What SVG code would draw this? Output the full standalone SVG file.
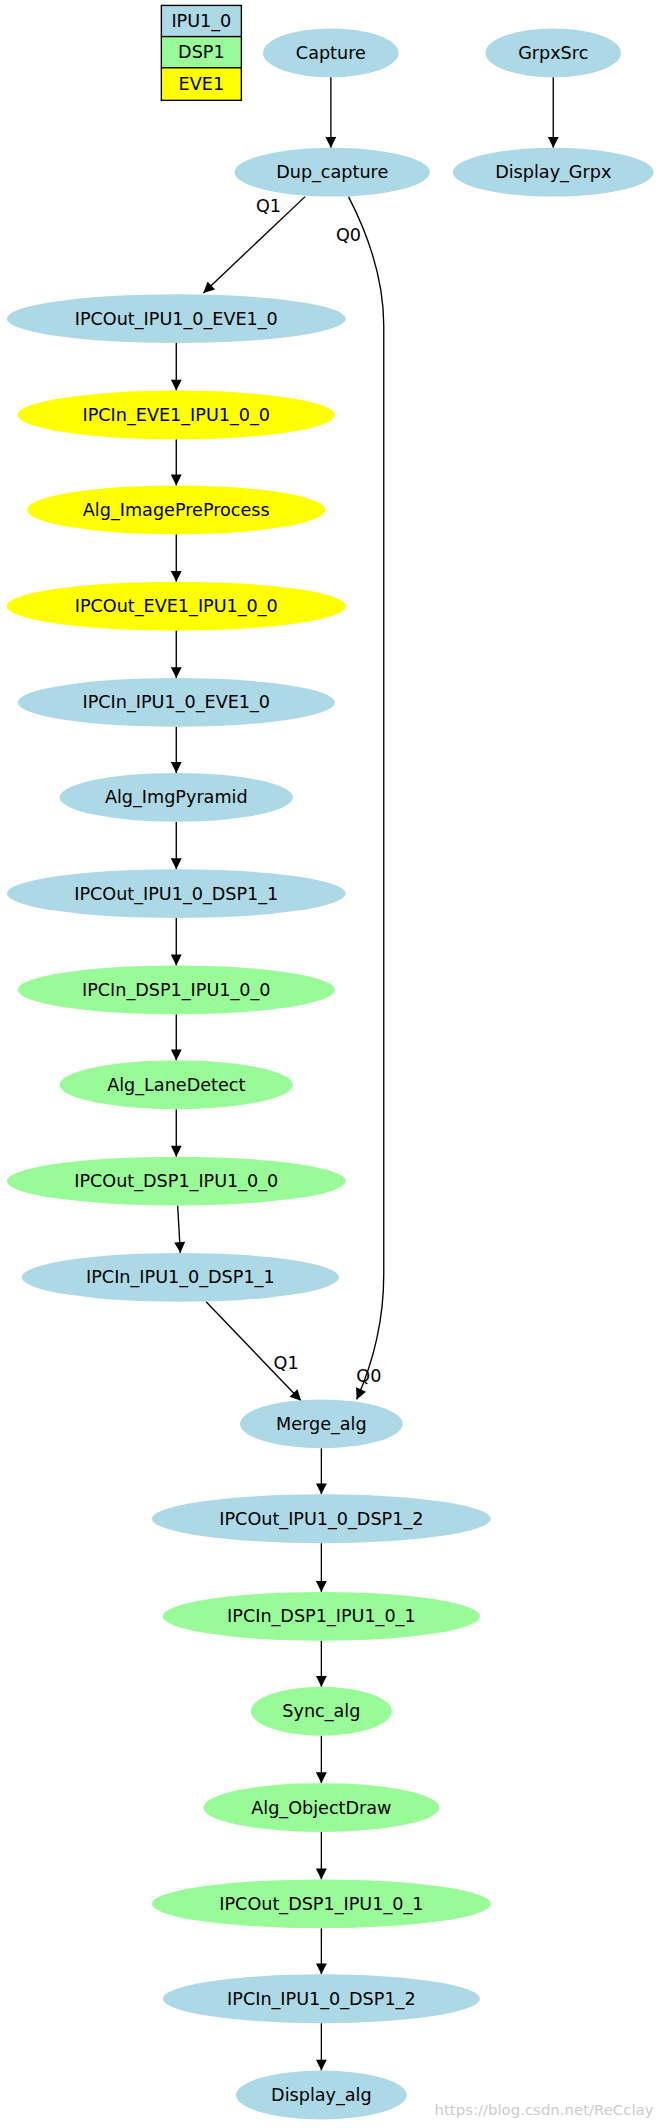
<svg xmlns="http://www.w3.org/2000/svg" width="659" height="2128" viewBox="0 0 659 2128">
<style>
text{font-family:"DejaVu Sans","Noto Sans",sans-serif;font-size:13px;text-anchor:middle;dominant-baseline:central;fill:#000}
.i{fill:#add8e6}.d{fill:#98fb98}.e{fill:#ffff00}
.c path,.c line{stroke:#000;stroke-width:1;fill:none;marker-end:url(#a)}
.w{fill:#ccc;font-size:11px;text-anchor:end}
</style>
<defs><marker id="a" viewBox="0 0 10 10" refX="10" refY="5" markerWidth="10" markerHeight="8" markerUnits="userSpaceOnUse" orient="auto"><path d="M0,0L10,5L0,10z" fill="#000"/></marker></defs>
<rect width="659" height="2128" fill="#fff"/>
<g transform="scale(1.356)">
<g id="legend" stroke="#000">
<rect x="119" y="4" width="59" height="23" class="i"/><rect x="119" y="27" width="59" height="23" class="d"/><rect x="119" y="50" width="59" height="24" class="e"/>
</g>
<text x="148.5" y="15.5">IPU1_0</text><text x="148.5" y="38.5">DSP1</text><text x="148.5" y="62">EVE1</text>
<g class="c">
<line x1="244" y1="57" x2="244" y2="109"/>
<line x1="408" y1="57" x2="408" y2="109"/>
<path d="M225,145 L150,216"/>
<path d="M257,145 C275,180 283,210 283,240 L283,940 C283,975 275,1005 263,1032"/>
<line x1="130" y1="253" x2="130" y2="288"/>
<line x1="130" y1="324" x2="130" y2="358"/>
<line x1="130" y1="394" x2="130" y2="429"/>
<line x1="130" y1="465" x2="130" y2="500"/>
<line x1="130" y1="536" x2="130" y2="570"/>
<line x1="130" y1="606" x2="130" y2="641"/>
<line x1="130" y1="677" x2="130" y2="712"/>
<line x1="130" y1="748" x2="130" y2="782"/>
<line x1="130" y1="818" x2="130" y2="853"/>
<line x1="131" y1="889" x2="133" y2="924"/>
<path d="M152,960 L222,1033"/>
<line x1="237" y1="1068" x2="237" y2="1102"/>
<line x1="237" y1="1138" x2="237" y2="1174"/>
<line x1="237" y1="1210" x2="237" y2="1244"/>
<line x1="237" y1="1280" x2="237" y2="1315"/>
<line x1="237" y1="1351" x2="237" y2="1386"/>
<line x1="237" y1="1422" x2="237" y2="1456"/>
<line x1="237" y1="1492" x2="237" y2="1527"/>
</g>
<text x="198" y="152">Q1</text><text x="257" y="173">Q0</text><text x="211" y="1005">Q1</text><text x="272" y="1015">Q0</text>
<g id="Capture"><ellipse cx="244" cy="39" rx="50" ry="18" class="i"/><text x="244" y="39">Capture</text></g>
<g id="GrpxSrc"><ellipse cx="408" cy="39" rx="50" ry="18" class="i"/><text x="408" y="39">GrpxSrc</text></g>
<g id="Dup_capture"><ellipse cx="245" cy="127" rx="72" ry="18" class="i"/><text x="245" y="127">Dup_capture</text></g>
<g id="Display_Grpx"><ellipse cx="408" cy="127" rx="74" ry="18" class="i"/><text x="408" y="127">Display_Grpx</text></g>
<g id="n1"><ellipse cx="130" cy="235" rx="125" ry="18" class="i"/><text x="130" y="235">IPCOut_IPU1_0_EVE1_0</text></g>
<g id="n2"><ellipse cx="130" cy="306" rx="117" ry="18" class="e"/><text x="130" y="306">IPCIn_EVE1_IPU1_0_0</text></g>
<g id="n3"><ellipse cx="130" cy="376" rx="110" ry="18" class="e"/><text x="130" y="376">Alg_ImagePreProcess</text></g>
<g id="n4"><ellipse cx="130" cy="447" rx="125" ry="18" class="e"/><text x="130" y="447">IPCOut_EVE1_IPU1_0_0</text></g>
<g id="n5"><ellipse cx="130" cy="518" rx="117" ry="18" class="i"/><text x="130" y="518">IPCIn_IPU1_0_EVE1_0</text></g>
<g id="n6"><ellipse cx="130" cy="588" rx="86" ry="18" class="i"/><text x="130" y="588">Alg_ImgPyramid</text></g>
<g id="n7"><ellipse cx="130" cy="659" rx="125" ry="18" class="i"/><text x="130" y="659">IPCOut_IPU1_0_DSP1_1</text></g>
<g id="n8"><ellipse cx="130" cy="730" rx="117" ry="18" class="d"/><text x="130" y="730">IPCIn_DSP1_IPU1_0_0</text></g>
<g id="n9"><ellipse cx="130" cy="800" rx="86" ry="18" class="d"/><text x="130" y="800">Alg_LaneDetect</text></g>
<g id="n10"><ellipse cx="130" cy="871" rx="125" ry="18" class="d"/><text x="130" y="871">IPCOut_DSP1_IPU1_0_0</text></g>
<g id="n11"><ellipse cx="133" cy="942" rx="117" ry="18" class="i"/><text x="133" y="942">IPCIn_IPU1_0_DSP1_1</text></g>
<g id="n12"><ellipse cx="237" cy="1050" rx="60" ry="18" class="i"/><text x="237" y="1050">Merge_alg</text></g>
<g id="n13"><ellipse cx="237" cy="1120" rx="125" ry="18" class="i"/><text x="237" y="1120">IPCOut_IPU1_0_DSP1_2</text></g>
<g id="n14"><ellipse cx="237" cy="1192" rx="117" ry="18" class="d"/><text x="237" y="1192">IPCIn_DSP1_IPU1_0_1</text></g>
<g id="n15"><ellipse cx="237" cy="1262" rx="52" ry="18" class="d"/><text x="237" y="1262">Sync_alg</text></g>
<g id="n16"><ellipse cx="237" cy="1333" rx="87" ry="18" class="d"/><text x="237" y="1333">Alg_ObjectDraw</text></g>
<g id="n17"><ellipse cx="237" cy="1404" rx="125" ry="18" class="d"/><text x="237" y="1404">IPCOut_DSP1_IPU1_0_1</text></g>
<g id="n18"><ellipse cx="237" cy="1474" rx="117" ry="18" class="i"/><text x="237" y="1474">IPCIn_IPU1_0_DSP1_2</text></g>
<g id="n19"><ellipse cx="237" cy="1545" rx="63" ry="18" class="i"/><text x="237" y="1545">Display_alg</text></g>
<text class="w" x="482" y="1556">https://blog.csdn.net/ReCclay</text>
</g>
</svg>
